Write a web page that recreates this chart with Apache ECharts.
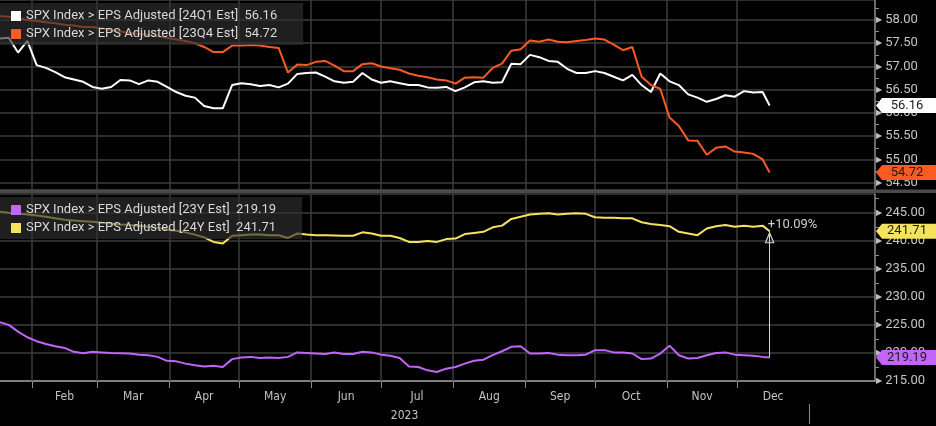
<!DOCTYPE html>
<html><head><meta charset="utf-8">
<script src="https://cdn.jsdelivr.net/npm/echarts@6/dist/echarts.min.js"></script>
<style>html,body{margin:0;padding:0;background:#000;}#c{width:936px;height:426px;}</style>
</head><body><div id="c"></div>
<script>
// ---- data ----
const dates = ['2023-01-18','2023-01-22','2023-01-26','2023-01-30','2023-02-03','2023-02-07','2023-02-11','2023-02-15','2023-02-19','2023-02-23','2023-02-27',
'2023-03-03','2023-03-07','2023-03-11','2023-03-15','2023-03-19','2023-03-23','2023-03-27','2023-03-31',
'2023-04-04','2023-04-08','2023-04-12','2023-04-16','2023-04-20','2023-04-24','2023-04-28',
'2023-05-02','2023-05-06','2023-05-10','2023-05-14','2023-05-18','2023-05-22','2023-05-26','2023-05-30',
'2023-06-03','2023-06-07','2023-06-11','2023-06-15','2023-06-19','2023-06-23','2023-06-27',
'2023-07-01','2023-07-05','2023-07-09','2023-07-13','2023-07-17','2023-07-21','2023-07-25','2023-07-29',
'2023-08-02','2023-08-06','2023-08-10','2023-08-14','2023-08-18','2023-08-22','2023-08-26','2023-08-30',
'2023-09-03','2023-09-07','2023-09-11','2023-09-15','2023-09-19','2023-09-23','2023-09-27',
'2023-10-01','2023-10-05','2023-10-09','2023-10-13','2023-10-17','2023-10-21','2023-10-25','2023-10-29',
'2023-11-02','2023-11-06','2023-11-10','2023-11-14','2023-11-18','2023-11-22','2023-11-26','2023-11-30',
'2023-12-04','2023-12-08','2023-12-12','2023-12-15'];

const eps24Q1 = [57.60,57.62,57.30,57.55,57.03,56.97,56.88,56.77,56.72,56.67,56.56,
56.52,56.56,56.71,56.70,56.62,56.70,56.67,56.56,
56.45,56.37,56.33,56.15,56.10,56.10,56.60,
56.64,56.62,56.58,56.60,56.55,56.63,56.84,56.86,
56.87,56.78,56.68,56.65,56.67,56.86,56.72,
56.65,56.68,56.64,56.60,56.60,56.55,56.54,56.56,
56.47,56.55,56.66,56.68,56.65,56.66,57.06,57.05,
57.25,57.20,57.12,57.10,56.95,56.86,56.86,
56.90,56.86,56.78,56.70,56.82,56.60,56.45,56.85,
56.68,56.60,56.40,56.33,56.24,56.30,56.38,56.35,
56.47,56.44,56.45,56.16];

const eps23Q4 = [58.08,58.07,58.04,58.00,57.98,57.95,57.93,57.90,57.88,57.85,57.85,
57.82,57.78,57.75,57.72,57.70,57.68,57.65,57.62,
57.58,57.55,57.50,57.42,57.31,57.31,57.45,
57.45,57.46,57.45,57.42,57.40,56.87,57.04,57.03,
57.10,57.12,57.02,56.90,56.90,57.05,57.07,
57.00,56.96,56.93,56.85,56.80,56.77,56.72,56.70,
56.63,56.76,56.77,56.76,56.97,57.06,57.34,57.37,
57.56,57.53,57.58,57.53,57.52,57.55,57.57,
57.60,57.58,57.47,57.35,57.42,56.78,56.60,56.52,
55.90,55.72,55.41,55.40,55.10,55.25,55.28,55.17,
55.15,55.12,55.00,54.72];

const eps23Y = [225.5,225.0,223.8,222.8,222.1,221.6,221.2,220.9,220.2,219.95,220.2,
220.1,220.0,219.95,219.9,219.7,219.6,219.3,218.6,
218.5,218.1,217.8,217.6,217.7,217.5,218.9,
219.2,219.3,219.1,219.2,219.1,219.3,220.1,220.0,
219.9,219.8,220.1,219.8,219.8,220.2,220.1,
219.7,219.5,219.1,217.6,217.5,216.9,216.6,217.2,
217.5,218.1,218.6,218.8,219.6,220.3,221.1,221.2,
219.9,219.9,220.0,219.7,219.6,219.6,219.7,
220.5,220.5,220.1,220.1,219.9,218.9,219.0,219.9,
221.3,219.6,219.0,219.1,219.6,220.0,220.1,219.7,
219.6,219.5,219.3,219.19];

const eps24Y = [245.2,245.0,244.85,244.7,244.5,244.3,244.0,243.75,243.6,243.5,243.4,
243.2,243.1,242.9,242.8,242.65,242.5,242.3,242.0,
241.8,241.5,241.1,240.6,239.8,239.5,240.9,
241.0,241.1,241.1,241.0,241.0,240.5,241.3,241.1,
241.0,241.0,240.95,240.9,240.9,241.5,241.3,
240.9,240.9,240.5,239.8,239.8,239.95,239.8,240.3,
240.4,241.2,241.4,241.6,242.4,242.7,243.9,244.3,
244.7,244.8,244.9,244.7,244.8,244.9,244.8,
244.2,244.1,244.1,244.0,244.0,243.3,243.0,242.8,
242.6,241.6,241.3,241.0,242.2,242.6,242.8,242.5,
242.7,242.5,242.7,241.71];

const seriesNames = ['SPX Index > EPS Adjusted [24Q1 Est]','SPX Index > EPS Adjusted [23Q4 Est]',
                     'SPX Index > EPS Adjusted [23Y Est]','SPX Index > EPS Adjusted [24Y Est]'];
const monthStarts = ['2023-02-01','2023-03-01','2023-04-01','2023-05-01','2023-06-01','2023-07-01',
                     '2023-08-01','2023-09-01','2023-10-01','2023-11-01','2023-12-01'];
const monthLabels = ['Feb','Mar','Apr','May','Jun','Jul','Aug','Sep','Oct','Nov','Dec'];
const nextYearStart = '2024-01-01';
const yearLabel = '2023';
const xStart = '2023-01-18 06';
const xEnd = '2024-01-29 07';
const annotationText = '+10.09%';

// ---- helpers ----
const ts = s => { const [d, h] = s.split(' '); const [y, m, dd] = d.split('-').map(Number); return new Date(y, m - 1, dd, h ? Number(h) : 0).getTime(); };
const xMin = ts(xStart), xMax = ts(xEnd);
const monthTs = monthStarts.map(ts);
const nextTs = monthTs.slice(1).concat([ts(nextYearStart)]);
const midTs = monthTs.map((t, i) => (t + nextTs[i]) / 2);
const F = "Roboto, 'Noto Sans', sans-serif";
const FN = "'Liberation Sans Narrow', 'DejaVu Sans Condensed', Roboto, sans-serif";
const gridColor = '#3c3c3c';
const axisColor = '#8c8c8c';
const labelColor = '#c4c4c4';
const colors = ['#ffffff', '#fb5a22', '#c165fb', '#f6e35c'];
const tagPath = 'path://M0,7.5 L6,0 L60,0 L60,15 L6,15 Z';
const triPath = 'path://M6,0 L12,12 L0,12 Z M6,3.2 L2,11 L10,11 Z';
const lastOf = {};

function mkSeries(idx, vals, xi, yi) {
  const name = seriesNames[idx], color = colors[idx], last = vals[vals.length - 1];
  lastOf[name] = last.toFixed(2);
  return {
    name, type: 'line', xAxisIndex: xi, yAxisIndex: yi, animation: false,
    data: dates.map((d, i) => [ts(d), vals[i]]),
    showSymbol: false, symbol: 'none',
    lineStyle: { color, width: 2 }, itemStyle: { color },
    emphasis: { disabled: true },
    markPoint: {
      silent: true, animation: false, symbol: tagPath, symbolSize: [60, 15], symbolOffset: [31, 0],
      itemStyle: { color },
      label: { show: true, color: '#1c1c1c', fontSize: 13, fontFamily: F, offset: [1, 0], formatter: () => last.toFixed(2) },
      data: [{ coord: [xMax, last], value: last }]
    }
  };
}

const s0 = mkSeries(0, eps24Q1, 0, 0);
const s1 = mkSeries(1, eps23Q4, 0, 0);
const s2 = mkSeries(2, eps23Y, 2, 1);
const s3 = mkSeries(3, eps24Y, 2, 1);
const lastDate = ts(dates[dates.length - 1]);
s2.markLine = {
  silent: true, animation: false,
  symbol: ['none', triPath], symbolSize: [10, 12], symbolOffset: [0, [0, 6]],
  lineStyle: { color: '#d6d6d6', width: 1, type: 'solid' },
  label: { show: true, position: 'end', formatter: annotationText, color: '#cfcfcf', fontSize: 13, fontFamily: F, padding: [0, 0, 0, 46], distance: 0 },
  data: [[{ coord: [lastDate, eps23Y[eps23Y.length - 1]] }, { coord: [lastDate, eps24Y[eps24Y.length - 1]] }]]
};

const xBase = { type: 'value', min: xMin, max: xMax, axisLine: { show: false }, axisLabel: { show: false }, splitLine: { show: false } };
const yLabel = (showMin) => ({
  showMinLabel: showMin, showMaxLabel: false, margin: 1, color: labelColor, fontSize: 13, fontFamily: F,
  formatter: v => '{t|\u25B6}{v|' + v.toFixed(2) + '}',
  rich: { t: { fontSize: 8, color: '#bdbdbd', padding: [0, 3, 0, 0], fontFamily: 'DejaVu Sans' }, v: { fontSize: 13, color: labelColor, fontFamily: F } }
});
const yBase = {
  type: 'value', position: 'right',
  axisLine: { show: true, lineStyle: { color: axisColor, width: 1.5 } },
  axisTick: { show: false },
  minorTick: { show: true, splitNumber: 2, length: 4, lineStyle: { color: axisColor } },
  splitLine: { show: true, lineStyle: { color: gridColor, width: 1.5 } }
};

const legendBase = {
  orient: 'vertical', left: 0, itemWidth: 10, itemHeight: 10, itemGap: 4, icon: 'rect', selectedMode: false,
  padding: [6, 26, 4, 11], backgroundColor: 'rgba(48,48,48,0.65)',
  textStyle: { color: '#d8d8d8', fontSize: 13, fontFamily: F, lineHeight: 14 },
  formatter: n => n + '  ' + lastOf[n]
};

const chart = echarts.init(document.getElementById('c'), null, { renderer: 'canvas' });
chart.setOption({
  backgroundColor: '#000',
  animation: false,
  textStyle: { fontFamily: F },
  grid: [
    { left: 0, right: 61, top: 0, height: 190 },
    { left: 0, right: 61, top: 194, height: 187 }
  ],
  legend: [
    Object.assign({}, legendBase, { top: 3, data: [seriesNames[0], seriesNames[1]] }),
    Object.assign({}, legendBase, { top: 197, data: [seriesNames[2], seriesNames[3]] })
  ],
  xAxis: [
    Object.assign({}, xBase, { gridIndex: 0, axisTick: { show: true, inside: true, length: 190, customValues: monthTs, lineStyle: { color: gridColor, width: 1.5 } } }),
    Object.assign({}, xBase, { gridIndex: 1, position: 'top', axisTick: { show: true, inside: true, length: 187, customValues: monthTs, lineStyle: { color: gridColor, width: 1.5 } } }),
    Object.assign({}, xBase, {
      gridIndex: 1, position: 'bottom',
      axisLine: { show: true, lineStyle: { color: '#9a9a9a', width: 1.5 } },
      axisTick: { show: true, length: 7, customValues: monthTs, lineStyle: { color: axisColor } },
      axisLabel: {
        show: true, customValues: midTs, margin: 10, color: labelColor, fontSize: 12, fontFamily: FN,
        formatter: v => { let b = 0; midTs.forEach((t, i) => { if (Math.abs(t - v) < Math.abs(midTs[b] - v)) b = i; }); return monthLabels[b]; }
      }
    })
  ],
  yAxis: [
    Object.assign({}, yBase, { gridIndex: 0, min: 54.343, max: 58.43, minInterval: 0.5, maxInterval: 0.5, splitNumber: 8, axisLabel: yLabel(false) }),
    Object.assign({}, yBase, { gridIndex: 1, min: 215, max: 248.34, minInterval: 5, maxInterval: 5, splitNumber: 6, axisLabel: yLabel(true) })
  ],
  series: [s0, s1, s2, s3]
});

const xJan = chart.convertToPixel({ xAxisIndex: 2 }, ts(nextYearStart));
const xLeft = chart.convertToPixel({ xAxisIndex: 2 }, xMin);
chart.setOption({
  graphic: [
    { type: 'rect', z: 10, shape: { x: 0, y: 189.5, width: 936, height: 3.5 }, style: { fill: '#4a4a4a' } },
    { type: 'text', z: 10, x: (xLeft + xJan) / 2, y: 416, style: { text: yearLabel, fill: labelColor, font: '12px ' + FN, align: 'center', verticalAlign: 'middle' } },
    { type: 'line', z: 10, shape: { x1: Math.round(xJan) + 0.5, y1: 404, x2: Math.round(xJan) + 0.5, y2: 424 }, style: { stroke: axisColor, lineWidth: 1 } }
  ]
});
</script>
</body></html>
